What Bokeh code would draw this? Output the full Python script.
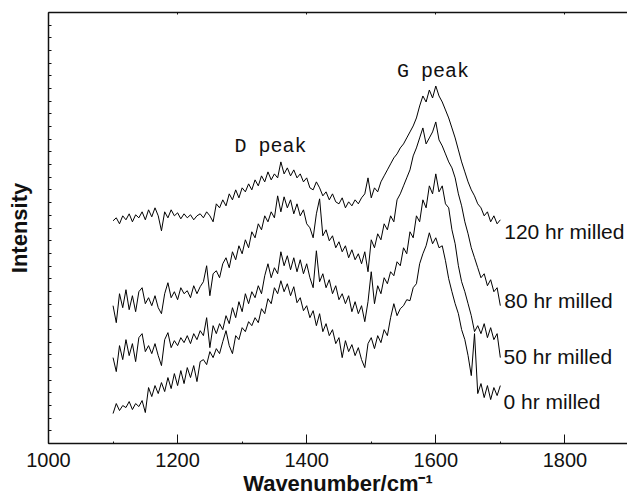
from bokeh.plotting import figure
from bokeh.models import Range1d, LinearAxis, SingleIntervalTicker, FixedTicker, Label
from bokeh.embed import file_html
from bokeh.resources import INLINE

# Raman shift grid (cm^-1) and intensities (arbitrary units)
wavenumber = list(range(1100, 1701, 5))

hr0 = [30, 40, 33, 38, 36, 42, 34, 40, 37, 43, 31, 56, 47, 58, 50, 61, 52, 66, 55, 70,
       58, 73, 60, 76, 66, 78, 62, 82, 84, 79, 92, 86, 95, 90, 102, 113, 98, 90, 108, 104,
       116, 112, 122, 118, 126, 121, 135, 130, 145, 140, 156, 150, 163, 152, 160, 148, 157, 141, 146, 133,
       138, 126, 133, 118, 130, 112, 120, 108, 114, 100, 106, 86, 103, 92, 99, 88, 96, 84, 76, 100,
       106, 95, 108, 101, 114, 108, 126, 140, 128, 135, 138, 144, 143, 156, 160, 180, 190, 198, 211, 200,
       206, 196, 198, 183, 165, 152, 140, 130, 114, 104, 88, 68, 110, 50, 60, 46, 58, 44, 56, 48,
       58]

hr50 = [86, 72, 98, 84, 104, 88, 100, 82, 106, 110, 92, 98, 90, 100, 88, 78, 104, 111, 96, 103,
        98, 106, 101, 108, 100, 110, 104, 113, 108, 126, 96, 118, 110, 120, 114, 128, 120, 136, 126, 142,
        132, 150, 140, 152, 146, 158, 150, 168, 180, 166, 176, 170, 192, 178, 188, 174, 186, 172, 184, 170,
        180, 166, 156, 193, 162, 170, 156, 164, 150, 158, 144, 150, 140, 148, 132, 142, 130, 138, 122, 142,
        172, 140, 158, 150, 166, 160, 172, 168, 182, 178, 196, 190, 212, 206, 228, 222, 244, 236, 258, 250,
        270, 252, 258, 240, 236, 214, 200, 178, 162, 152, 140, 128, 112, 118, 110, 120, 106, 116, 104, 110,
        86]

hr80 = [138, 121, 150, 136, 154, 134, 148, 132, 152, 156, 140, 146, 138, 148, 136, 130, 150, 161, 146, 152,
        144, 156, 150, 153, 146, 158, 150, 157, 162, 178, 148, 170, 173, 166, 180, 186, 176, 192, 184, 198,
        190, 204, 196, 212, 206, 220, 214, 228, 222, 232, 226, 248, 232, 247, 236, 244, 230, 240, 228, 234,
        220, 216, 206, 230, 245, 208, 214, 203, 208, 196, 202, 192, 198, 186, 194, 184, 190, 180, 192, 172,
        204, 196, 210, 204, 220, 214, 228, 222, 244, 250, 258, 266, 274, 288, 296, 306, 316, 300, 306, 312,
        322, 304, 298, 290, 282, 276, 266, 250, 238, 222, 210, 196, 186, 176, 166, 170, 158, 164, 152, 156,
        138]

hr120 = [223, 226, 220, 228, 224, 230, 222, 229, 226, 232, 224, 234, 227, 236, 228, 213, 232, 226, 234, 228,
         231, 225, 230, 226, 229, 224, 228, 230, 226, 232, 228, 222, 240, 236, 244, 238, 250, 244, 254, 246,
         256, 252, 260, 254, 264, 258, 268, 262, 272, 264, 270, 266, 282, 270, 276, 268, 274, 266, 270, 262,
         266, 256, 254, 262, 256, 248, 252, 244, 250, 242, 240, 246, 236, 242, 238, 244, 240, 246, 250, 266,
         246, 256, 252, 262, 268, 274, 280, 286, 290, 296, 300, 306, 312, 318, 326, 338, 348, 342, 354, 346,
         358, 348, 342, 334, 326, 316, 306, 294, 282, 272, 262, 254, 248, 240, 236, 228, 232, 222, 228, 220,
         224]

series_labels = ["0 hr milled", "50 hr milled", "80 hr milled", "120 hr milled"]
x_ticks_step = 200

Y_TOP = 431.6
N_YTICKS = 34

p = figure(width=627, height=502, output_backend="svg", toolbar_location=None,
           x_range=Range1d(1000, 1897), y_range=Range1d(0, Y_TOP),
           min_border_left=48, min_border_right=0, min_border_top=12, min_border_bottom=59)
p.outline_line_color = None
p.xgrid.grid_line_color = None
p.ygrid.grid_line_color = None
p.background_fill_color = "white"
p.border_fill_color = "white"

ax = p.xaxis[0]
ax.ticker = SingleIntervalTicker(interval=x_ticks_step, num_minor_ticks=2)
ax.major_tick_in = 9
ax.major_tick_out = 0
ax.minor_tick_in = 2
ax.minor_tick_out = 0
ax.axis_line_width = 1.5
ax.axis_line_color = "#111111"
ax.major_tick_line_color = "#111111"
ax.minor_tick_line_color = "#111111"
ax.major_label_text_font = "Liberation Sans"
ax.major_label_text_font_size = "20px"
ax.major_label_text_color = "#111111"
ax.major_label_standoff = 9
ax.axis_label = "Wavenumber/cm\u207b\u00b9"
ax.axis_label_text_font = "Liberation Sans"
ax.axis_label_text_font_size = "22px"
ax.axis_label_text_font_style = "bold"
ax.axis_label_text_color = "#111111"
ax.axis_label_standoff = 1

ay = p.yaxis[0]
ay.ticker = FixedTicker(ticks=[], minor_ticks=[i * Y_TOP / N_YTICKS for i in range(N_YTICKS + 1)])
ay.major_tick_in = 0
ay.major_tick_out = 0
ay.minor_tick_in = 3
ay.minor_tick_out = 0
ay.axis_line_width = 1.5
ay.axis_line_color = "#111111"
ay.minor_tick_line_color = "#111111"
ay.axis_label = "Intensity"
ay.axis_label_text_font = "Liberation Sans"
ay.axis_label_text_font_size = "22px"
ay.axis_label_text_font_style = "bold"
ay.axis_label_text_color = "#111111"
ay.axis_label_standoff = 17

top = LinearAxis(ticker=FixedTicker(ticks=[], minor_ticks=[1000, 1200, 1400, 1600, 1800]),
                 major_tick_in=0, major_tick_out=0, minor_tick_in=2, minor_tick_out=0,
                 axis_line_width=1.5, axis_line_color="#111111", minor_tick_line_color="#111111")
p.add_layout(top, "above")

for ys in (hr0, hr50, hr80, hr120):
    p.line(wavenumber, ys, line_color="black", line_width=1)

label_pos = [(1705, 41.7), (1705, 87.4), (1706, 143), (1706, 212.4)]
for text, (lx, ly) in zip(series_labels, label_pos):
    p.add_layout(Label(x=lx, y=ly, text=text, text_font="Liberation Sans",
                       text_font_size="21px", text_color="#111111", text_baseline="alphabetic"))

p.add_layout(Label(x=1288, y=297.5, text="D peak", text_font="Liberation Mono",
                   text_font_size="20px", text_color="#111111", text_baseline="alphabetic"))
p.add_layout(Label(x=1540, y=372.9, text="G peak", text_font="Liberation Mono",
                   text_font_size="20px", text_color="#111111", text_baseline="alphabetic"))

open("out.html", "w").write(file_html(p, INLINE))
